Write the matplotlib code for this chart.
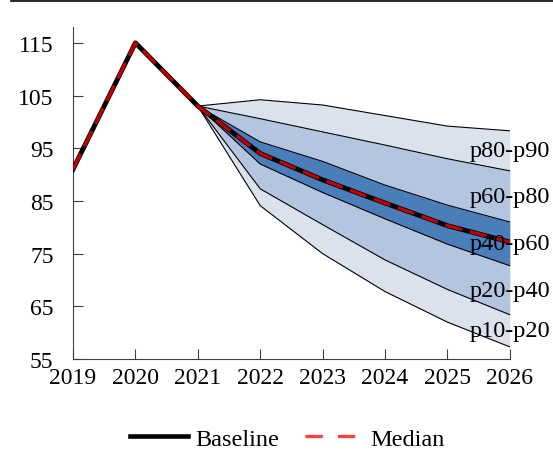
import numpy as np
import matplotlib
matplotlib.use('Agg')
import matplotlib.pyplot as plt
from matplotlib.lines import Line2D

plt.rcParams['font.family'] = ['Liberation Serif', 'DejaVu Serif']

years = [2019, 2020, 2021, 2022, 2023, 2024, 2025, 2026]
baseline = [91, 115, 103, 94.0, 89.0, 84.6, 80.3, 77.2]
median = [91, 115, 103, 94.0, 89.0, 84.6, 80.3, 77.2]

fan_years = [2021, 2022, 2023, 2024, 2025, 2026]
p10 = [103, 84.1, 75.0, 67.8, 62.0, 57.3]
p20 = [103, 87.3, 80.5, 73.8, 68.2, 63.4]
p40 = [103, 92.0, 86.6, 81.6, 76.8, 72.7]
p60 = [103, 96.2, 92.5, 88.0, 84.2, 81.0]
p80 = [103, 100.6, 98.1, 95.6, 93.0, 90.7]
p90 = [103, 104.2, 103.2, 101.2, 99.2, 98.3]

band_names = ['p10-p20', 'p20-p40', 'p40-p60', 'p60-p80', 'p80-p90']
band_colors = ['#dbe2ee', '#b4c5df', '#4a7ebb', '#b4c5df', '#dbe2ee']

fig = plt.figure(figsize=(5.53, 4.52), dpi=100)
ax = fig.add_axes([0.132, 0.2035, 0.79, 0.7345])

edges = [p10, p20, p40, p60, p80, p90]
for i in range(5):
    lo, hi = edges[i], edges[i + 1]
    ax.fill_between(fan_years, lo, hi, color=band_colors[i], linewidth=0, zorder=1)
    mid = (lo[-1] + hi[-1]) / 2
    ax.text(fan_years[-1], mid, band_names[i], ha='center', va='center', fontsize=17.5, zorder=5)
for e in edges:
    ax.plot(fan_years, e, color='black', linewidth=0.8, zorder=2)

dash = (0, (5.2, 2.4))
ax.plot(years, baseline, color='black', linewidth=3.5, label='Baseline', zorder=3)
ax.plot(years, median, color='red', alpha=0.75, linewidth=2.4, linestyle=dash, label='Median', zorder=4)

ax.set_xlim(2019, 2026)
ax.set_ylim(55, 118)
ax.set_xticks(years)
ax.set_yticks([55, 65, 75, 85, 95, 105, 115])
ax.tick_params(direction='in', length=7, labelsize=17, color='#404040')
ax.tick_params(axis='y', pad=14)
ax.tick_params(axis='x', pad=6)
for s in ['top', 'right']:
    ax.spines[s].set_visible(False)
for s in ['left', 'bottom']:
    ax.spines[s].set_color('#404040')

fig.legend(handles=[Line2D([], [], color='black', linewidth=3.3),
                    Line2D([], [], color='red', alpha=0.75, linewidth=2.4, linestyle=(0, (5.2, 4.5)))],
           labels=['Baseline', 'Median'], loc='center', bbox_to_anchor=(0.52, 0.027),
           ncol=2, frameon=False, fontsize=17.5, handlelength=2.4, columnspacing=1.05, handletextpad=0.3)

fig.add_artist(Line2D([0.02, 1.0], [0.995, 0.995], color='black', linewidth=1.2, transform=fig.transFigure))

fig.savefig('out.png', dpi=100)
